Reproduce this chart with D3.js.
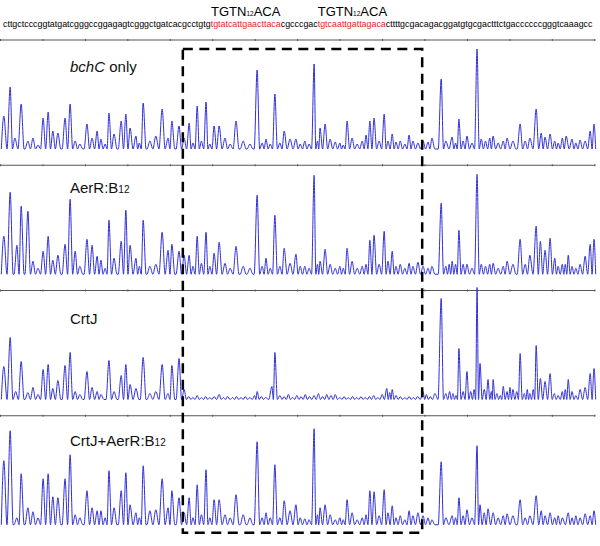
<!DOCTYPE html>
<html>
<head>
<meta charset="utf-8">
<script src="https://cdn.jsdelivr.net/npm/d3@7"></script>
<style>
  body { margin: 0; background: #fff; }
  svg { display: block; font-family: "Liberation Sans", Arial, sans-serif; }
</style>
</head>
<body>
<svg id="svg" width="600" height="546"></svg>
<script>
// DNA sequence above the traces, red parts are the two TGTN12ACA motifs
let seqParts = [
    { s: 'cttgctcccggtatgatcgggccggagagtcgggctgatcacgcctgtg', motif: false },
    { s: 'tgtatcattgaacttaca', motif: true },
    { s: 'cgcccgac', motif: false },
    { s: 'tgtcaattgattagaca', motif: true },
    { s: 'cttttgcgacagacggatgtgcgactttctgaccccccgggtcaaagcc', motif: false }
];

// panel labels, pieces: [text, style]
let panelLabels = [
    [['bchC', 'i'], [' only', '']],
    [['AerR:B', ''], ['12', 'sub']],
    [['CrtJ', '']],
    [['CrtJ+AerR:B', ''], ['12', 'sub']]
];

// protected region (in base positions of the trace)
let footprint = [42.6, 99.3];

// ruler ticks every 10 bases
let rulerTicks = d3.range(0, 141, 10);

// electropherogram peaks: [position (bases), intensity]
let traceBchC = [
    [0.2, 33], [1.7, 62], [2.8, 11], [4.3, 45], [5.9, 8], [7.1, 11], [8.3, 4], [9.5, 31],
    [10.7, 37], [11.8, 18], [13.0, 16], [14.7, 31], [15.9, 45], [17.1, 8], [18.2, 5], [19.9, 25],
    [21.1, 11], [22.3, 18], [23.2, 10], [24.2, 5], [25.1, 36], [26.3, 15], [28.0, 28], [29.1, 35],
    [30.1, 21], [31.5, 13], [32.3, 6], [33.2, 46], [34.8, 8], [36.2, 13], [37.7, 40], [39.1, 11],
    [40.0, 28], [41.7, 23], [42.9, 11], [44.1, 26], [45.0, 6], [46.0, 43], [47.0, 8], [48.1, 47],
    [49.0, 5], [50.0, 23], [51.2, 23], [52.6, 11], [53.8, 5], [55.2, 28], [56.9, 8], [58.5, 5],
    [60.2, 79], [61.4, 6], [62.3, 10], [63.3, 5], [64.4, 55], [65.6, 6], [66.6, 18], [68.0, 10],
    [69.4, 10], [70.4, 5], [71.5, 8], [72.5, 5], [73.7, 85], [74.5, 8], [75.1, 21], [76.3, 25],
    [77.5, 10], [78.7, 7], [79.8, 6], [80.6, 4], [81.5, 28], [82.7, 11], [83.9, 5], [85.1, 8],
    [86.0, 14], [86.9, 28], [87.9, 31], [89.1, 8], [90.3, 35], [91.2, 8], [92.2, 15], [93.1, 7],
    [94.1, 8], [95.2, 5], [96.2, 14], [97.1, 8], [98.3, 6], [99.5, 8], [100.7, 7], [101.6, 11],
    [103.8, 70], [104.9, 8], [106.4, 12], [107.2, 6], [108.0, 30], [109.0, 8], [109.9, 13], [111.1, 6],
    [112.3, 100], [113.3, 10], [114.3, 8], [115.3, 11], [116.1, 13], [117.3, 6], [118.5, 8], [119.4, 11],
    [120.8, 8], [122.5, 25], [123.7, 8], [124.8, 11], [126.3, 40], [127.5, 16], [128.4, 12], [129.6, 15],
    [130.7, 8], [131.5, 6], [132.5, 11], [133.4, 13], [134.8, 10], [135.7, 6], [136.7, 9], [137.9, 8],
    [139.1, 18], [140.0, 25]
];

let traceAerR = [
    [0.2, 38], [1.7, 82], [3.3, 29], [4.3, 68], [5.9, 63], [7.1, 13], [8.3, 6], [9.5, 23],
    [10.7, 38], [11.8, 14], [13.0, 19], [14.7, 30], [15.9, 75], [17.1, 23], [18.2, 8], [19.9, 35],
    [21.1, 29], [22.3, 18], [23.2, 14], [24.2, 6], [25.1, 54], [26.3, 16], [28.0, 33], [29.1, 64],
    [30.1, 29], [31.5, 16], [32.3, 8], [33.2, 54], [34.8, 8], [36.2, 10], [37.7, 42], [39.1, 24],
    [40.0, 30], [41.7, 23], [42.9, 19], [44.1, 19], [45.0, 8], [46.0, 38], [47.0, 11], [48.1, 42],
    [49.0, 8], [50.0, 21], [51.2, 32], [52.6, 11], [53.8, 6], [55.2, 28], [56.9, 8], [58.5, 6],
    [60.2, 79], [61.4, 8], [62.3, 16], [63.3, 6], [64.4, 59], [65.6, 8], [66.6, 26], [68.0, 11],
    [69.4, 20], [70.4, 8], [71.5, 8], [72.5, 6], [73.7, 99], [74.5, 10], [75.1, 13], [76.3, 25],
    [77.5, 10], [78.7, 6], [79.8, 8], [80.6, 6], [81.5, 26], [82.7, 13], [83.9, 6], [85.1, 8],
    [86.0, 10], [86.9, 34], [87.9, 39], [89.1, 10], [90.3, 43], [91.2, 13], [92.2, 23], [93.1, 8],
    [94.1, 10], [95.2, 6], [96.2, 11], [97.1, 8], [98.3, 12], [99.5, 8], [100.7, 6], [101.6, 8],
    [103.8, 71], [104.9, 8], [105.7, 10], [106.4, 13], [107.2, 10], [108.0, 44], [109.0, 10], [109.9, 10],
    [111.1, 6], [112.3, 100], [113.3, 10], [114.3, 8], [115.3, 10], [116.1, 11], [117.3, 6], [118.5, 8],
    [119.4, 13], [120.8, 10], [122.5, 35], [123.7, 10], [124.8, 19], [126.3, 48], [127.3, 33], [128.4, 24],
    [129.6, 36], [130.7, 16], [131.5, 8], [132.5, 10], [133.2, 10], [133.9, 19], [134.8, 8], [135.7, 6],
    [136.7, 10], [137.9, 18], [139.1, 30], [140.0, 35]
];

let traceCrtJ = [
    [0.2, 33], [1.7, 62], [3.0, 8], [4.3, 38], [5.9, 7], [7.1, 12], [8.3, 5], [9.5, 30],
    [10.7, 35], [11.8, 11], [13.0, 19], [14.7, 34], [15.9, 47], [17.1, 8], [18.2, 5], [19.9, 28],
    [21.1, 12], [22.3, 8], [23.2, 5], [25.1, 39], [26.3, 8], [28.0, 24], [29.1, 35], [30.1, 15],
    [31.5, 11], [33.2, 42], [34.8, 6], [36.2, 8], [37.7, 35], [39.1, 6], [40.0, 34], [41.7, 41],
    [42.9, 10], [44.0, 3], [45.0, 2], [46.0, 4], [47.0, 2], [48.0, 3], [49.0, 2], [50.0, 3],
    [51.2, 5], [52.2, 2], [53.2, 3], [54.4, 2], [55.3, 3], [56.4, 2], [57.4, 3], [58.5, 2],
    [59.6, 4], [60.2, 8], [61.2, 3], [62.2, 2], [63.7, 13], [64.4, 47], [65.6, 4], [66.6, 3],
    [67.6, 5], [68.6, 2], [69.6, 4], [70.6, 3], [71.6, 5], [72.6, 3], [73.7, 4], [74.7, 6],
    [75.7, 3], [76.7, 5], [77.7, 4], [78.7, 5], [79.8, 2], [80.8, 3], [81.8, 2], [82.8, 3],
    [83.8, 2], [84.8, 3], [85.8, 2], [86.8, 3], [87.8, 4], [88.8, 2], [89.8, 5], [90.9, 11],
    [91.6, 7], [92.2, 10], [93.1, 4], [94.1, 3], [95.2, 2], [96.2, 3], [97.2, 2], [98.2, 3],
    [99.5, 8], [100.3, 5], [101.2, 3], [102.3, 6], [103.8, 101], [104.9, 6], [105.8, 8], [106.6, 6],
    [107.3, 4], [108.0, 51], [109.0, 8], [109.9, 28], [110.8, 8], [111.6, 10], [112.3, 112], [113.0, 36],
    [114.0, 10], [114.9, 20], [115.7, 8], [116.1, 20], [117.0, 6], [117.8, 4], [118.5, 13], [119.4, 8],
    [120.1, 12], [120.8, 10], [121.7, 8], [122.5, 46], [123.5, 6], [124.2, 10], [124.8, 6], [125.6, 10],
    [126.3, 54], [127.3, 21], [128.4, 18], [129.6, 26], [130.6, 6], [131.5, 4], [132.5, 8], [133.2, 10],
    [133.9, 20], [134.8, 8], [135.7, 4], [136.7, 10], [137.9, 12], [139.1, 26], [140.0, 31]
];

let traceCrtJAerR = [
    [0.2, 64], [1.7, 94], [3.3, 7], [4.3, 51], [5.9, 17], [7.1, 13], [8.3, 7], [9.5, 46],
    [10.7, 51], [11.8, 28], [13.0, 27], [14.7, 46], [15.9, 70], [17.1, 10], [18.2, 7], [19.9, 34],
    [21.1, 17], [22.3, 14], [23.2, 14], [24.2, 7], [25.1, 54], [26.3, 17], [28.0, 34], [29.1, 52],
    [30.1, 20], [31.5, 12], [32.3, 7], [33.2, 59], [34.8, 14], [36.2, 15], [37.7, 46], [39.1, 17],
    [40.0, 34], [41.7, 27], [42.9, 12], [44.1, 27], [45.0, 7], [46.0, 40], [47.0, 10], [48.1, 55],
    [49.0, 7], [50.0, 25], [51.2, 25], [52.6, 10], [53.8, 7], [55.2, 30], [56.9, 10], [58.5, 7],
    [60.2, 83], [61.4, 7], [62.3, 12], [63.3, 7], [64.4, 60], [65.6, 7], [66.6, 24], [68.0, 14],
    [69.4, 20], [70.4, 7], [71.5, 6], [72.5, 5], [73.7, 96], [74.5, 10], [75.1, 17], [76.3, 20],
    [77.5, 10], [78.7, 5], [79.8, 7], [80.6, 5], [81.5, 25], [82.7, 12], [83.9, 5], [85.1, 7],
    [86.0, 10], [86.9, 34], [87.9, 33], [89.1, 9], [90.3, 35], [91.2, 12], [92.2, 19], [93.1, 7],
    [94.1, 9], [95.2, 5], [96.2, 14], [97.1, 9], [98.3, 12], [99.5, 9], [100.7, 7], [101.6, 5],
    [103.8, 63], [104.9, 7], [106.4, 9], [107.2, 7], [108.0, 27], [109.0, 9], [109.9, 15], [111.1, 7],
    [112.3, 79], [113.0, 20], [114.0, 12], [114.9, 16], [116.1, 12], [117.3, 7], [118.5, 9], [119.4, 11],
    [120.8, 9], [122.5, 25], [123.7, 7], [124.8, 9], [126.3, 29], [127.5, 14], [128.4, 9], [129.6, 12],
    [130.7, 7], [131.5, 9], [132.5, 7], [133.9, 12], [134.8, 7], [135.7, 9], [136.7, 7], [137.9, 11],
    [139.1, 9], [140.0, 14]
];

let traces = [traceBchC, traceAerR, traceCrtJ, traceCrtJAerR];
let labelDy = [32, 28, 33, 30];

let svg = d3.select('#svg');

// scales
let rulerX = d3.scaleLinear().domain([0, 140]).range([0, 594.3]);
let traceX = d3.scaleLinear().domain([0, 140]).range([3, 594]);
let panelY = d3.scaleBand().domain(d3.range(traces.length)).range([40, 541]);
let baseOffset = 109;

// ---- sequence on top ----
let totalLen = d3.sum(seqParts, d => d.s.length);
let seqX = d3.scaleLinear().domain([0, totalLen]).range([3, 593]);
let start = 0;
seqParts.forEach((p) => {
    p.start = start;
    start += p.s.length;
});

// one text element, coloured tspans, squeezed horizontally to the ruler width
let seqG = svg.append('g');
let seqText = seqG.append('text')
    .attr('x', 0)
    .attr('y', 27)
    .attr('font-size', '9.5px');
seqText.selectAll('tspan')
    .data(seqParts)
    .enter().append('tspan')
    .attr('fill', d => d.motif ? '#ee1c1c' : '#000')
    .text(d => d.s);
let natural = seqText.node().getComputedTextLength();
let squeeze = (seqX(totalLen) - seqX(0)) / natural;
seqG.attr('transform', 'translate(' + seqX(0) + ',0) scale(' + squeeze + ',1)');

// motif labels centred above red parts
let motifLabel = svg.append('g').selectAll('text')
    .data(seqParts.filter(d => d.motif))
    .enter().append('text')
    .attr('x', d => seqX(d.start + d.s.length / 2))
    .attr('y', 15.5)
    .attr('text-anchor', 'middle')
    .attr('font-size', '13px')
    .attr('fill', '#000');
motifLabel.append('tspan').text('TGTN');
motifLabel.append('tspan').attr('font-size', '6.5px').text('12');
motifLabel.append('tspan').text('ACA');

// ---- panels ----
let ruler = d3.axisBottom(rulerX)
    .tickValues(rulerTicks)
    .tickSizeInner(2)
    .tickSizeOuter(0)
    .tickFormat('');

let line = d3.line()
    .x(d => traceX(d[0]))
    .y(d => d[1])
    .curve(d3.curveMonotoneX);

// turn a list of peaks into points with valleys between them
tracePoints = (peaks, y) => {
    let sorted = peaks.slice().sort((a, b) => a[0] - b[0]);
    let pts = [[sorted[0][0] - 0.6, y(0)]];
    sorted.forEach((p, i) => {
        pts.push([p[0], y(p[1])]);
        let next = sorted[i + 1];
        if (next) {
            let gap = next[0] - p[0];
            if (gap > 1.5) {
                pts.push([p[0] + 0.7, y(0)]);
                pts.push([next[0] - 0.7, y(0)]);
            } else {
                pts.push([p[0] + gap / 2, y(0)]);
            }
        }
    });
    pts.push([sorted[sorted.length - 1][0] + 0.4, y(0)]);
    return pts;
}

traces.forEach((trace, i) => {
    let top = panelY(i);
    let g = svg.append('g');

    // separator with base ticks
    let axisG = g.append('g')
        .attr('transform', 'translate(0,' + (top - 1) + ')')
        .call(ruler);
    axisG.select('.domain')
        .attr('d', 'M' + rulerX(0) + ',1H' + (rulerX(140) + 1))
        .attr('stroke', '#555');
    axisG.selectAll('.tick line').attr('stroke', '#555');

    let y = d3.scaleLinear()
        .domain([0, 100])
        .range([top + baseOffset, top + baseOffset - 100]);

    g.append('path')
        .attr('d', line(tracePoints(trace, y)))
        .attr('fill', 'none')
        .attr('stroke', '#3030d8')
        .attr('stroke-width', 1);

    // label
    let label = g.append('text')
        .attr('x', 70)
        .attr('y', top + labelDy[i])
        .attr('font-size', '15px')
        .attr('fill', '#111');
    panelLabels[i].forEach((part) => {
        let t = label.append('tspan').text(part[0]);
        if (part[1] == 'i') t.attr('font-style', 'italic');
        if (part[1] == 'sub') t.attr('font-size', '10px');
    });
});

// ---- dashed footprint box ----
let boxTop = panelY(0) + 9;
let boxBottom = panelY(traces.length - 1) + 117;
svg.append('rect')
    .attr('x', traceX(footprint[0]))
    .attr('y', boxTop)
    .attr('width', traceX(footprint[1]) - traceX(footprint[0]))
    .attr('height', boxBottom - boxTop)
    .attr('fill', 'none')
    .attr('stroke', '#000')
    .attr('stroke-width', 2.5)
    .attr('stroke-dasharray', '10,6.5');
</script>
</body>
</html>
